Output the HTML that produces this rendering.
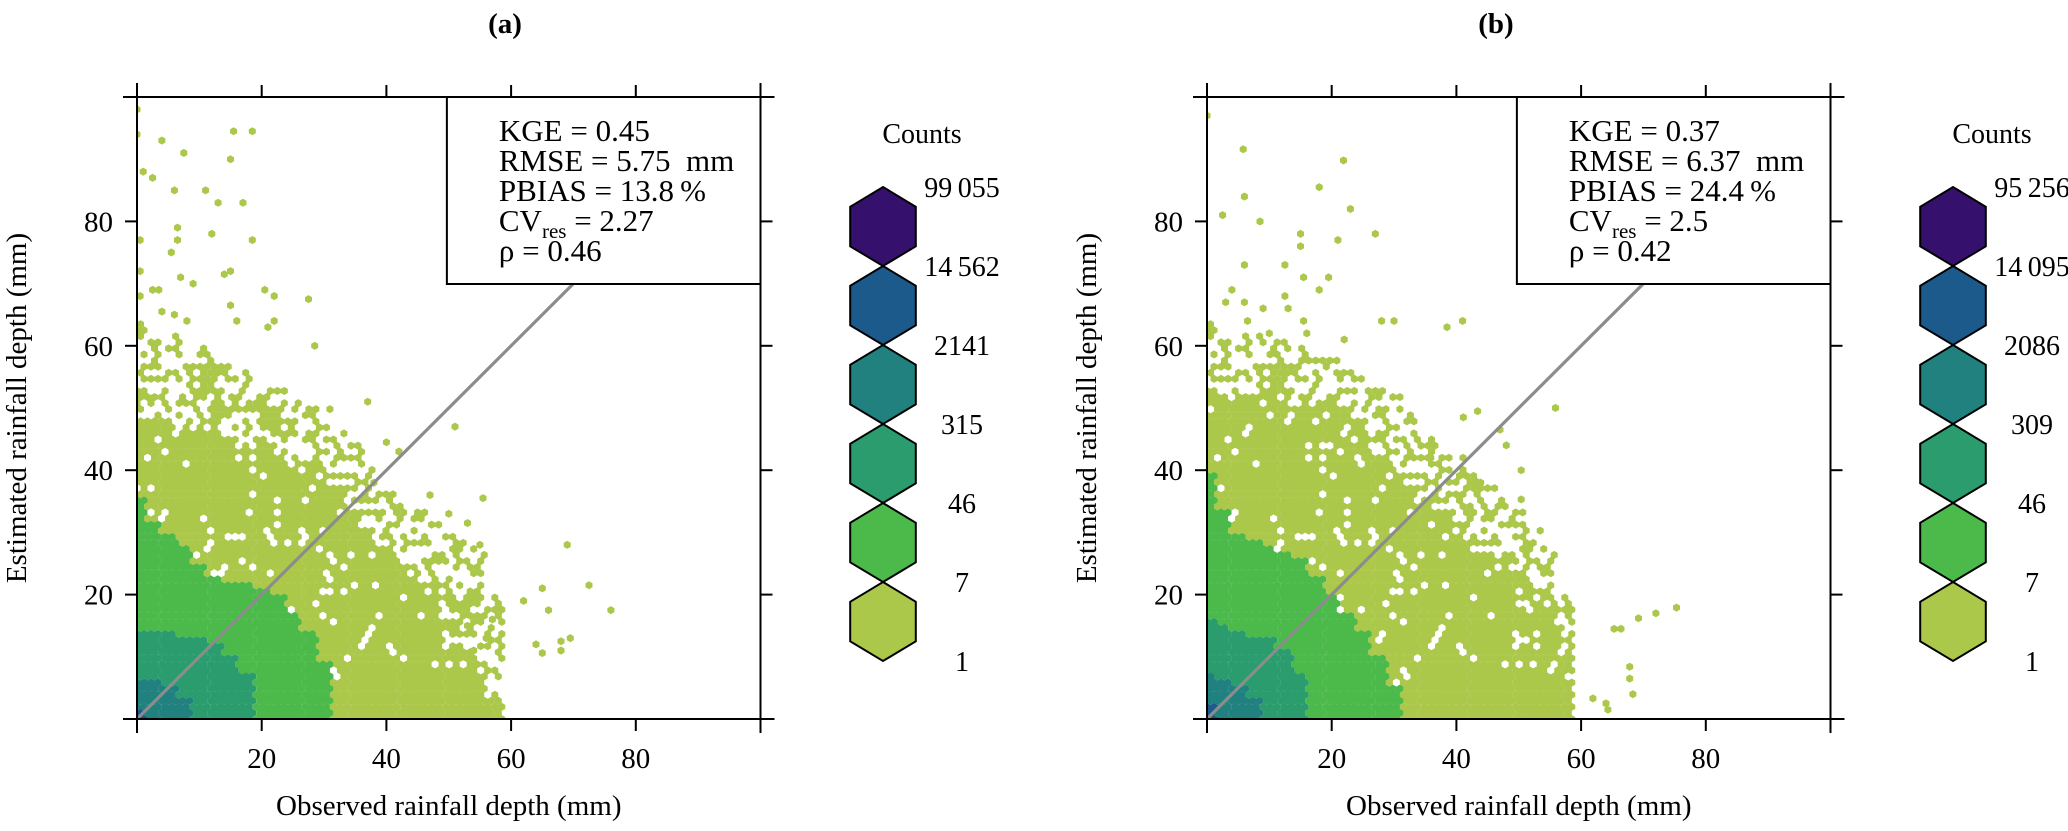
<!DOCTYPE html>
<html><head><meta charset="utf-8"><style>
html,body{margin:0;padding:0;background:#fff}
svg{display:block;font-family:"Liberation Serif",serif}
</style></head><body>
<svg id="chart" width="2068" height="831" viewBox="0 0 2068 831" xmlns="http://www.w3.org/2000/svg">
<defs>
<clipPath id="clipA"><rect x="137" y="97" width="623.5" height="622"/></clipPath>
<clipPath id="clipB"><rect x="1207" y="97" width="623.5" height="622"/></clipPath>
</defs>
</svg>
<script>
// ---- data ----
const binsObs=[0,2.5,5,7.5,10,12.5,15,17.5,20,22.5,25,27.5,30,32.5,35,37.5,40,42.5,45,47.5,50,52.5,55,57.5,60];
const xTicks=[20,40,60,80];
const yTicks=[20,40,60,80];
// panel a envelopes (upper estimated value reached by each count level per observed bin)
const aSparse=[64,63,62,61,60,59,57,56,54,53,52,51,50,47,44,41,38,36,34,32,30,29,28,20,0];
const aLight=[48,48,47,47,46,46,45,44,43,42,42,40,38,36,34,31,28,25,22,19,16,12,8,3,0];
const aGreen=[36,32,30,28,25,23,22,22,21,20,17,14,9,0,0,0,0,0,0,0,0,0,0,0,0];
const aTealGreen=[14,14,14,13,13,12,10,7,0,0,0,0,0,0,0,0,0,0,0,0,0,0,0,0,0];
const aTeal=[6,6,5,3,0,0,0,0,0,0,0,0,0,0,0,0,0,0,0,0,0,0,0,0,0];
const aBlue=[1.5,0,0,0,0,0,0,0,0,0,0,0,0,0,0,0,0,0,0,0,0,0,0,0,0];
const aPtsObs=[0,0,4,15.5,18.5,7.5,15,1,2.5,6,11,13,17,6.5,12,18.5,6.5,5.5,0.5,0.5,7,9,14,15,2.5,3.5,20.5,22,27.5,15,0.5,4,6,8,16,22,21,28.5,37,51,42,40,55.5,38,47,50,53,55,57,56,53,54,62,65,69,72.5,76,66,64,65,68,68,69.5];
const aPtsEst=[98,94,93,94.5,94.5,91,90,88,87,85,85,83,83,79,78,77,77,75,77,72,71,70,71.5,72,69,69,69,68,67.5,66.5,68,65.5,65,64,64,64,63,60,51,47,43,44.5,35.5,38,36,33,31.5,28,16,13,15,11,19,21,28,21.5,17.5,17.5,12,10.6,12.5,11,13];
// panel b envelopes
const bSparse=[64,64,63,62,62,61,60,59,58,56,55,53,52,49,46,44,42,40,38,36,34,31,28,20,0];
const bLight=[52,52,52,52,52,51,50,49,48,47,45,42,39,37,35,33,32,29,27,25,24,21,19,10,0];
const bGreen=[40,34,30,29,28,27,26,23,20,17,14,10,5,0,0,0,0,0,0,0,0,0,0,0,0];
const bTealGreen=[16,15,14,13,13,11,7,0,0,0,0,0,0,0,0,0,0,0,0,0,0,0,0,0,0];
const bTeal=[7,6,5,3,0,0,0,0,0,0,0,0,0,0,0,0,0,0,0,0,0,0,0,0,0];
const bBlue=[2,0,0,0,0,0,0,0,0,0,0,0,0,0,0,0,0,0,0,0,0,0,0,0,0];
const bPtsObs=[0,5.8,21.9,18,6,23,2.5,8.5,15,21,27,15,6,12.5,19.5,15.5,4,18,12.5,6,3,9,13,6.5,15.5,28,30,38.5,41,10,16,22,65.3,66.4,69.2,72,75.3,67.8,67.8,68.3,61.9,64,64.3,55.9,43.4,47,48,41.1,50.4,50.4,43.9,35.9];
const bPtsEst=[97,91.6,89.8,85.5,84,82,81,80,78,77,78,76,73,73,71,71,69,69,68,67,67,66,66,64,64,64,64,63,64,62,62,61,14.5,14.5,16.2,17,17.9,8.4,6.5,4,3.3,2.5,1.5,50,49.5,46.5,44,48.5,40,35.3,38,42];
const legendA=['99\u2009055','14\u2009562','2141','315','46','7','1'];
const legendB=['95\u2009256','14\u2009095','2086','309','46','7','1'];
const statsA=['KGE = 0.45','RMSE = 5.75\u2002mm','PBIAS = 13.8\u2009%','CV|2.27','\u03c1 = 0.46'];
const statsB=['KGE = 0.37','RMSE = 6.37\u2002mm','PBIAS = 24.4\u2009%','CV|2.5','\u03c1 = 0.42'];
const levelColors=['#35106c','#1c5a8c','#21817f','#2a9c6d','#4cb94b','#acc84b'];

const NS='http://www.w3.org/2000/svg';
const svg=document.getElementById('chart');
function mk(tag,attrs,parent){const e=document.createElementNS(NS,tag);for(const k in attrs)e.setAttribute(k,attrs[k]);(parent||svg).appendChild(e);return e;}
function speckle(i,j){let h=(Math.imul(i+1,374761393)+Math.imul(j+7,668265263))|0;h=Math.imul(h^(h>>>13),1274126177);h=h^(h>>>16);return (h>>>0)%100;}

function panel(p){
  const X0=p.x0,Y0=719,SX=6.235,SY=6.22,TOP=97;
  const xs=v=>X0+v*SX, ys=v=>Y0-v*SY;
  const g=mk('g',{});
  
  
  const t=mk('text',{x:p.titleX,y:33,'text-anchor':'middle','font-size':29,'font-weight':'bold'},g);
  t.textContent=p.title;
  
  
  const hg=mk('g',{'clip-path':'url(#'+p.clip+')'},g);
  
  
  const r=4.05, w=r*Math.sqrt(3), dxU=w/SX, dyU=1.5*r/SY;
  const envs=[null,p.blue,p.teal,p.tealGreen,p.green,p.light];
  const paths=['','','','','',''];
  function hex(cx,cy){return 'M'+cx.toFixed(1)+' '+(cy-r).toFixed(1)+'l'+(w/2).toFixed(2)+' '+(r/2).toFixed(2)+'v'+r.toFixed(2)+'l'+(-w/2).toFixed(2)+' '+(r/2).toFixed(2)+'l'+(-w/2).toFixed(2)+' '+(-r/2).toFixed(2)+'v'+(-r).toFixed(2)+'z';}
  for(let j=0;j*dyU<=101;j++){
    const yv=j*dyU, off=(j%2)*dxU/2;
    for(let i=0;off+i*dxU<=101;i++){
      const xv=off+i*dxU;
      const b=Math.min(binsObs.length-1,Math.round(xv/2.5));
      let lvl=-1;
      for(let L=1;L<=5;L++){const e=envs[L][b];if(e>0&&yv<=e){lvl=L;break;}}
      const s=speckle(i,j);
      if(lvl===5&&s<8&&yv>4)lvl=-1;
      else if(lvl<0){const e=p.sparse[b];if(e>0&&yv<=e&&s<45)lvl=5;}
      if(lvl>=0)paths[lvl]+=hex(xs(xv),ys(yv));
    }
  }
  for(let k=0;k<p.ptsObs.length;k++)paths[5]+=hex(xs(p.ptsObs[k]),ys(p.ptsEst[k]));
  for(let L=5;L>=1;L--){
    if(!paths[L])continue;
    const pe=mk('path',{d:paths[L],fill:levelColors[L]},hg);
    
    
  }
  const ln=mk('line',{x1:xs(0),y1:ys(0),x2:xs(100),y2:ys(100),stroke:'#8c8c8c','stroke-width':3.2},g);
  
  
  const bx=xs(49.7), by=TOP, bw=xs(100)-bx, bh=284-TOP;
  const box=mk('rect',{x:bx,y:by,width:bw,height:bh,fill:'#fff',stroke:'#000','stroke-width':2},g);
  
  
  p.stats.forEach((s,k)=>{
    const tx=mk('text',{x:bx+52,y:141+k*30,'font-size':31},g);
    
    
    if(s.startsWith('CV|')){
      tx.appendChild(document.createTextNode('CV'));
      const sub=mk('tspan',{'font-size':21,dy:7},tx);sub.textContent='res';
      const rest=mk('tspan',{dy:-7},tx);rest.textContent=' = '+s.slice(3);
    } else tx.textContent=s;
  });
  const fr=mk('g',{stroke:'#000','stroke-width':2,fill:'none'},g);
  
  
  const ext=14;
  mk('line',{x1:xs(0)-ext,y1:ys(0),x2:xs(100)+ext,y2:ys(0)},fr);
  mk('line',{x1:xs(0)-ext,y1:ys(100),x2:xs(100)+ext,y2:ys(100)},fr);
  mk('line',{x1:xs(0),y1:ys(100)-ext,x2:xs(0),y2:ys(0)+ext},fr);
  mk('line',{x1:xs(100),y1:ys(100)-ext,x2:xs(100),y2:ys(0)+ext},fr);
  const tl=12;
  xTicks.forEach(v=>{
    mk('line',{x1:xs(v),y1:ys(0),x2:xs(v),y2:ys(0)+tl},fr);
    mk('line',{x1:xs(v),y1:ys(100),x2:xs(v),y2:ys(100)-tl},fr);
    const lb=mk('text',{x:xs(v),y:768,'text-anchor':'middle','font-size':29},g);
    lb.textContent=v;
    
    
  });
  yTicks.forEach(v=>{
    mk('line',{x1:xs(0),y1:ys(v),x2:xs(0)-tl,y2:ys(v)},fr);
    mk('line',{x1:xs(100),y1:ys(v),x2:xs(100)+tl,y2:ys(v)},fr);
    const lb=mk('text',{x:xs(0)-24,y:ys(v)+10,'text-anchor':'end','font-size':29},g);
    lb.textContent=v;
    
    
  });
  const xt=mk('text',{x:xs(50),y:815,'text-anchor':'middle','font-size':29},g);
  xt.textContent='Observed rainfall depth (mm)';
  
  
  const yt=mk('text',{x:0,y:0,'text-anchor':'middle','font-size':29,transform:'translate('+(X0-111)+' 408) rotate(-90)'},g);
  yt.textContent='Estimated rainfall depth (mm)';
  
  
  const lg=mk('g',{},g);
  
  
  const lc=X0+746, hr=39.5, hw=hr*Math.sqrt(3)/2*0.96;
  const ct=mk('text',{x:lc+39,y:143,'text-anchor':'middle','font-size':28},lg);
  ct.textContent='Counts';
  
  
  for(let k=0;k<6;k++){
    const cy=187+hr+k*2*hr;
    const pts=[[lc,cy-hr],[lc+hw,cy-hr/2],[lc+hw,cy+hr/2],[lc,cy+hr],[lc-hw,cy+hr/2],[lc-hw,cy-hr/2]].map(q=>q[0].toFixed(1)+','+q[1].toFixed(1)).join(' ');
    const hp=mk('polygon',{points:pts,fill:levelColors[k],stroke:'#000','stroke-width':2},lg);
    
    
  }
  p.legend.forEach((s,k)=>{
    const lt=mk('text',{x:lc+79,y:187+k*2*hr+10,'text-anchor':'middle','font-size':28},lg);
    lt.textContent=s;
    
    
  });
}
panel({name:'a',x0:137,clip:'clipA',title:'(a)',titleX:505,sparse:aSparse,light:aLight,green:aGreen,tealGreen:aTealGreen,teal:aTeal,blue:aBlue,ptsObs:aPtsObs,ptsEst:aPtsEst,stats:statsA,legend:legendA});
panel({name:'b',x0:1207,clip:'clipB',title:'(b)',titleX:1496,sparse:bSparse,light:bLight,green:bGreen,tealGreen:bTealGreen,teal:bTeal,blue:bBlue,ptsObs:bPtsObs,ptsEst:bPtsEst,stats:statsB,legend:legendB});
</script>
</body></html>
